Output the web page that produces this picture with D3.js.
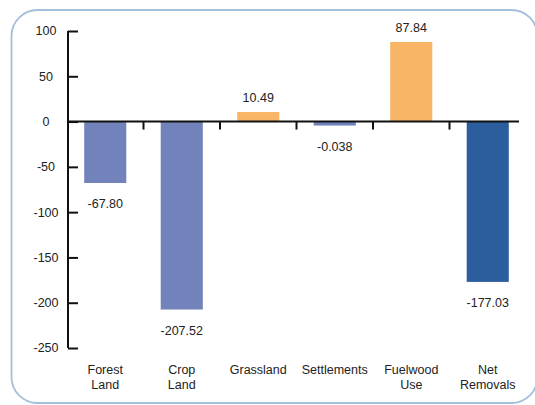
<!DOCTYPE html>
<html><head><meta charset="utf-8">
<script src="https://cdn.jsdelivr.net/npm/d3@7"></script>
<style>body{margin:0;background:#fff}svg{display:block}text{font-family:Arial,"Liberation Sans",sans-serif;fill:#222}</style>
</head><body><svg id="c" width="535" height="405"></svg>
<script>
const categories = [["Forest","Land"],["Crop","Land"],["Grassland"],["Settlements"],["Fuelwood","Use"],["Net","Removals"]];
const values = [-67.80, -207.52, 10.49, -0.038, 87.84, -177.03];
const valueLabels = ["-67.80","-207.52","10.49","-0.038","87.84","-177.03"];
const colors = ["#7282ba","#7282ba","#f8b565","#7282ba","#f8b565","#2c5d9d"];
const yTicks = [100,50,0,-50,-100,-150,-200,-250];

const svg = d3.select("#c");
svg.append("rect").attr("x",11.5).attr("y",10).attr("width",526).attr("height",393)
  .attr("rx",26).attr("fill","#fff").attr("stroke","#a3bfdb").attr("stroke-width",1.8);

const ids = d3.range(values.length);
const x = d3.scaleBand().domain(ids).range([67,526]).paddingInner(0.45).paddingOuter(0.225);
const y = d3.scaleLinear().domain([-250,100]).range([348,31]);

// bars
svg.selectAll("rect.bar").data(ids).join("rect").attr("class","bar")
  .attr("x",i=>x(i)).attr("width",x.bandwidth())
  .attr("y",i=>values[i]>=0?y(values[i]):y(0))
  .attr("height",i=>Math.max(4,Math.abs(y(values[i])-y(0))))
  .attr("fill",i=>colors[i]);

// y axis
const yAxis = svg.append("g").attr("transform","translate(68,0)")
  .call(d3.axisRight(y).tickValues(yTicks).tickSize(10).tickFormat(""));
yAxis.select(".domain").attr("stroke","#111").attr("stroke-width",2).attr("d","M0,"+y(100)+"V"+y(-250));
yAxis.selectAll(".tick line").attr("stroke","#111").attr("stroke-width",2);
svg.selectAll("text.yt").data(yTicks).join("text").attr("class","yt")
  .attr("x",46).attr("y",d=>y(d)).attr("dy","0.35em").attr("text-anchor","middle")
  .attr("font-size",12.5).text(d=>d);

// zero line with boundary ticks
const step = x.step();
const bounds = d3.range(1,values.length).map(i=>x(i)-x.paddingInner()*step/2);
svg.append("line").attr("x1",67).attr("x2",519).attr("y1",y(0)).attr("y2",y(0))
  .attr("stroke","#111").attr("stroke-width",2);
svg.selectAll("line.bt").data(bounds).join("line").attr("class","bt")
  .attr("x1",d=>d).attr("x2",d=>d).attr("y1",y(0)).attr("y2",y(0)+8)
  .attr("stroke","#111").attr("stroke-width",2);

// value labels
svg.selectAll("text.vl").data(ids).join("text").attr("class","vl")
  .attr("x",i=>x(i)+x.bandwidth()/2)
  .attr("y",i=>values[i]>=0?y(values[i])-10:Math.max(y(values[i]),y(0)+4)+25)
  .attr("text-anchor","middle").attr("font-size",12.5).text(i=>valueLabels[i]);

// category labels
const cat = svg.selectAll("text.cl").data(ids).join("text").attr("class","cl")
  .attr("text-anchor","middle").attr("font-size",12.5);
cat.each(function(i){
  const t=d3.select(this);
  categories[i].forEach((s,k)=>t.append("tspan").attr("x",x(i)+x.bandwidth()/2).attr("y",374+k*14.5).text(s));
});
</script></body></html>
